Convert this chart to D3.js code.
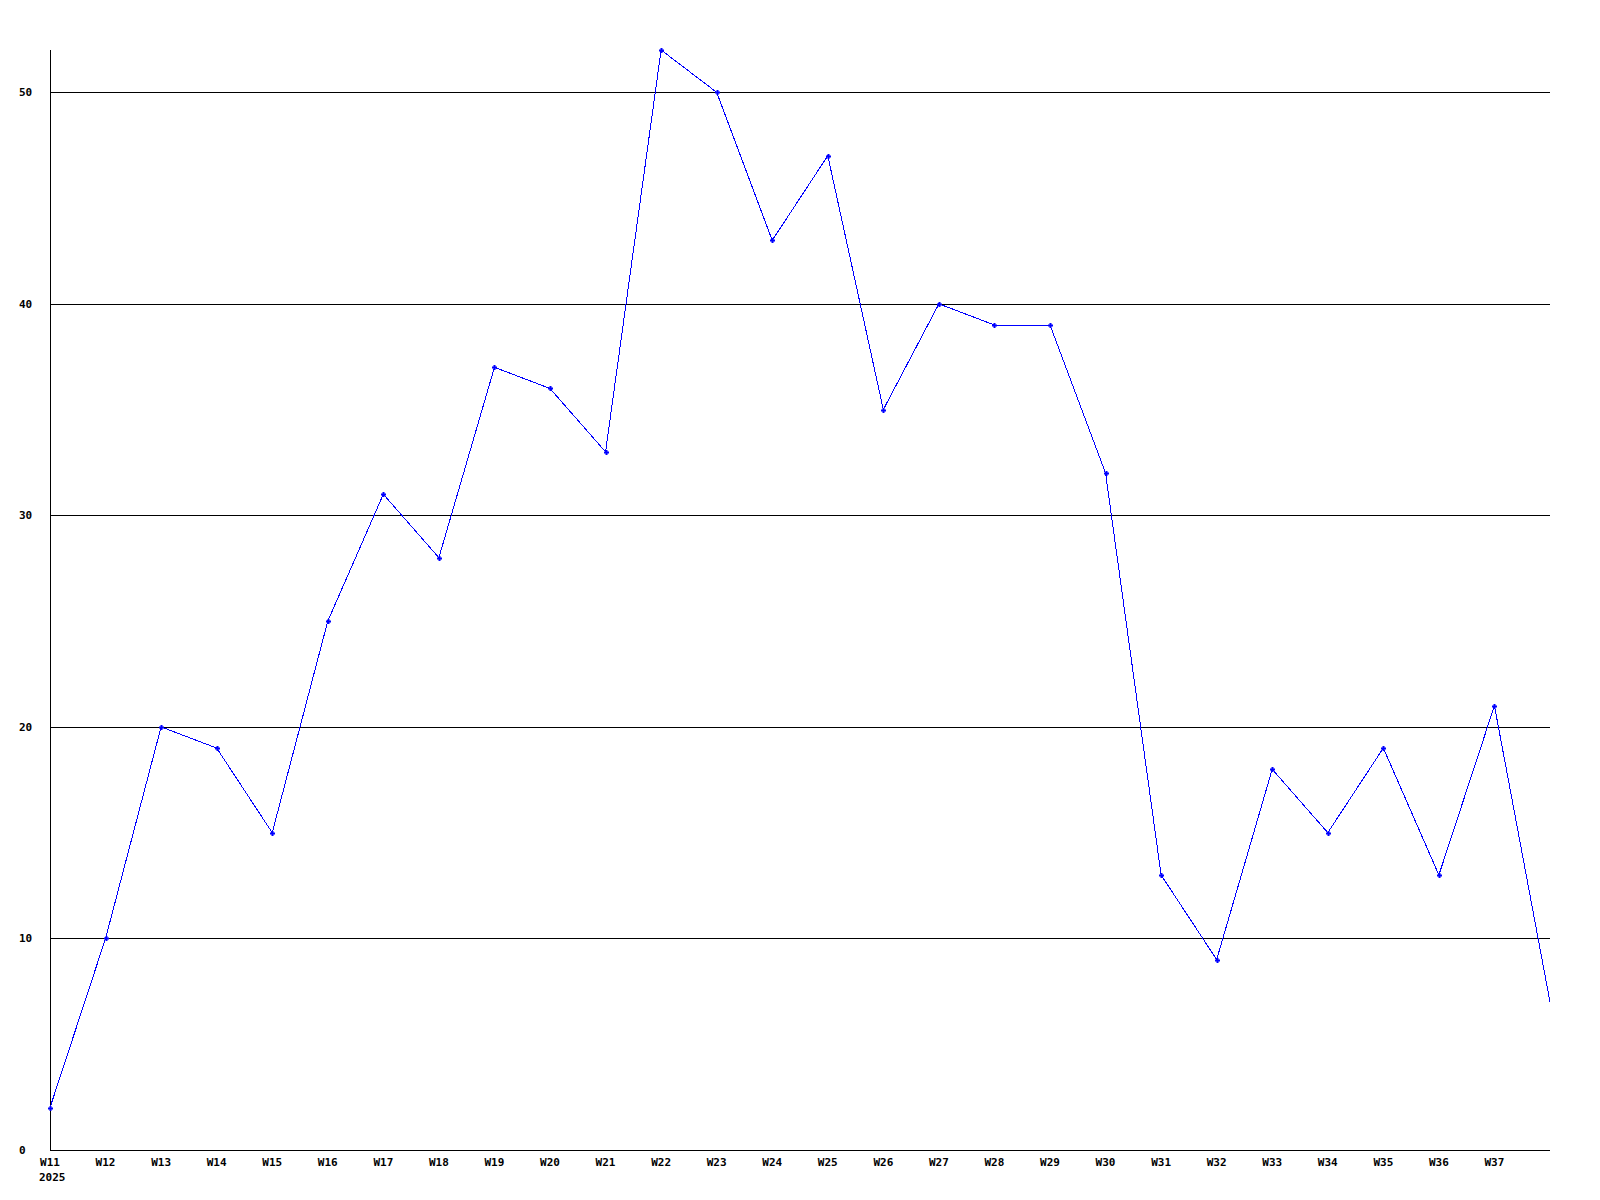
<!DOCTYPE html>
<html>
<head>
<meta charset="utf-8">
<script src="https://cdn.jsdelivr.net/npm/d3@7"></script>
<style>
  body { margin: 0; background: #fff; }
  text { font-family: "DejaVu Sans Mono", monospace; font-weight: bold; font-size: 11px; fill: #000; }
</style>
</head>
<body>
<div id="chart"></div>
<script>
// weeks shown on the x axis (last point has no label)
const weeks = ["W11","W12","W13","W14","W15","W16","W17","W18","W19","W20","W21","W22","W23","W24",
  "W25","W26","W27","W28","W29","W30","W31","W32","W33","W34","W35","W36","W37","W38"];
const tickWeeks = weeks.slice(0, 27);
const counts = [2,10,20,19,15,25,31,28,37,36,33,52,50,43,47,35,40,39,39,32,13,9,18,15,19,13,21,7];
const yTicks = [0,10,20,30,40,50];
const yearLabel = "2025";

const margin = { top: 50, right: 50, bottom: 50, left: 50 },
  width = 1600 - margin.left - margin.right,
  height = 1200 - margin.top - margin.bottom;

const svg = d3.select("#chart").append("svg")
  .attr("width", 1600).attr("height", 1200)
  .append("g")
  .attr("transform", `translate(${margin.left},${margin.top})`);

const x = d3.scalePoint().domain(weeks).range([0, width]);
const y = d3.scaleLinear().domain([0, 52]).range([height, 0]);

// horizontal grid lines
svg.append("g")
  .selectAll("line")
  .data(yTicks.filter(d => d > 0))
  .join("line")
  .attr("x1", 0).attr("x2", width)
  .attr("y1", d => Math.round(y(d)) + 0.5).attr("y2", d => Math.round(y(d)) + 0.5)
  .attr("stroke", "#000");

// y labels
svg.append("g")
  .selectAll("text")
  .data(yTicks)
  .join("text")
  .attr("x", -31)
  .attr("y", d => Math.round(y(d)) + 4)
  .text(d => d);

// axes lines
svg.append("line")
  .attr("x1", 0.5).attr("x2", 0.5).attr("y1", 0).attr("y2", height)
  .attr("stroke", "#000");
svg.append("line")
  .attr("x1", 0).attr("x2", width).attr("y1", height + 0.5).attr("y2", height + 0.5)
  .attr("stroke", "#000");

// x labels
svg.append("g")
  .selectAll("text")
  .data(tickWeeks)
  .join("text")
  .attr("x", d => x(d))
  .attr("y", height + 16)
  .attr("text-anchor", "middle")
  .text(d => d);
svg.append("text")
  .attr("x", x(weeks[0]) - 11)
  .attr("y", height + 31)
  .text(yearLabel);

// line
const line = d3.line()
  .x((d, i) => x(weeks[i]))
  .y(d => y(d));
svg.append("path")
  .datum(counts)
  .attr("d", line)
  .attr("fill", "none")
  .attr("stroke", "#0000ff")
  .attr("stroke-width", 1)
  .attr("shape-rendering", "crispEdges");

// point markers (small crosses)
const pts = svg.append("g")
  .selectAll("g")
  .data(counts.slice(0, 27))
  .join("g")
  .attr("transform", (d, i) => `translate(${Math.round(x(weeks[i]))},${Math.round(y(d))})`);
pts.append("rect").attr("x", -2).attr("y", -0.5).attr("width", 5).attr("height", 2).attr("fill", "#0000ff");
pts.append("rect").attr("x", -0.5).attr("y", -2).attr("width", 2).attr("height", 5).attr("fill", "#0000ff");
</script>
</body>
</html>
